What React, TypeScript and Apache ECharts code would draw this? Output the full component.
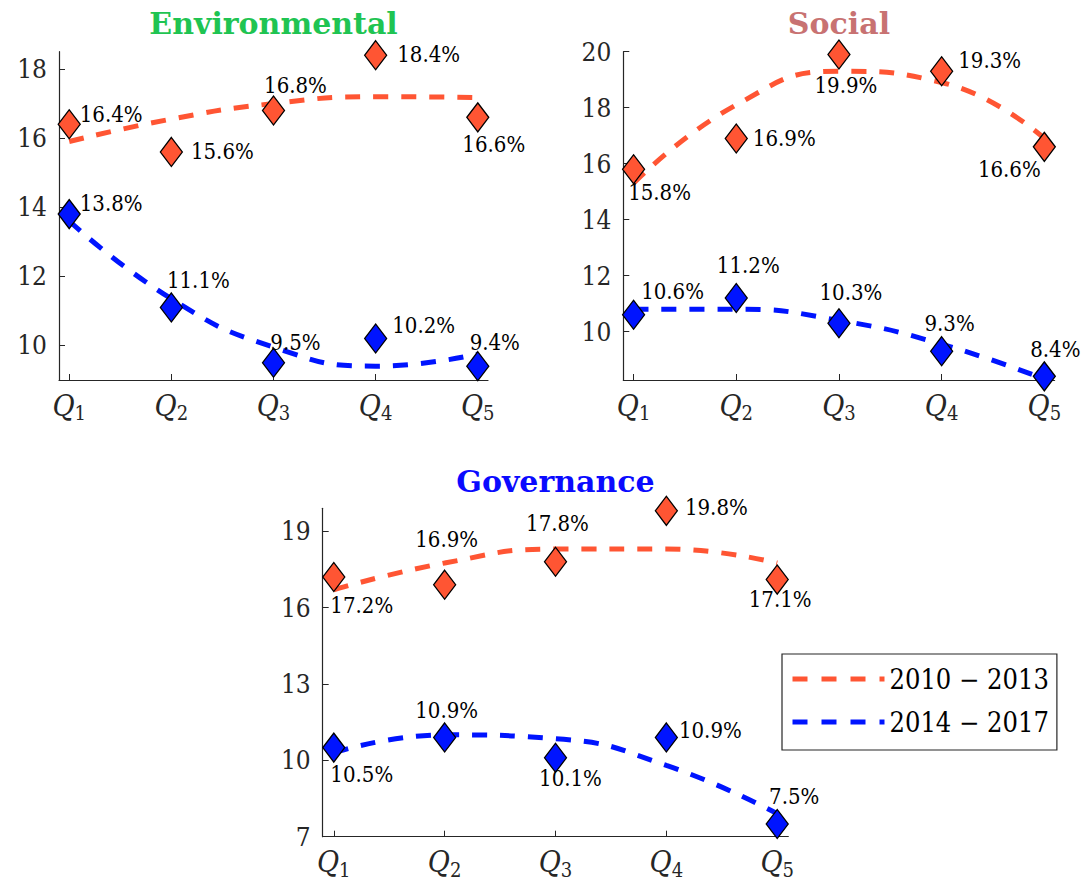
import React, { useEffect, useRef } from 'react';
import * as echarts from 'echarts';

// ---- data ----
const quintilePositions = [1, 2, 3, 4, 5];
const periods = ['2010 − 2013', '2014 − 2017'];

const envEarly = [16.4, 15.6, 16.8, 18.4, 16.6];
const envLate = [13.8, 11.1, 9.5, 10.2, 9.4];
const socEarly = [15.8, 16.9, 19.9, 19.3, 16.6];
const socLate = [10.6, 11.2, 10.3, 9.3, 8.4];
const govEarly = [17.2, 16.9, 17.8, 19.8, 17.1];
const govLate = [10.5, 10.9, 10.1, 10.9, 7.5];

// dashed trend curves, values read at each quintile
const envEarlyTrend = [15.9, 16.55, 17.0, 17.2, 17.17];
const envLateTrend = [13.6, 11.35, 9.95, 9.4, 9.75];
const socEarlyTrend = [15.3, 18.1, 19.3, 18.9, 16.9];
const socLateTrend = [10.8, 10.8, 10.4, 9.55, 8.3];
const govEarlyTrend = [16.7, 17.75, 18.3, 18.3, 17.75];
const govLateTrend = [10.3, 11.0, 10.85, 9.8, 7.9];

const envTicks = [10, 12, 14, 16, 18];
const socTicks = [10, 12, 14, 16, 18, 20];
const govTicks = [7, 10, 13, 16, 19];

// ---- styling / layout ----
const SERIF = 'DejaVu Serif Condensed, DejaVu Serif, serif';
const RED = '#ff5533';
const BLUE = '#0014ff';
const AXIS = '#262626';

const envEarlyOff = [[42, -10], [51, 0], [22, -25], [53, -1], [16, 27]];
const envLateOff = [[42, -11], [27, -27], [22, -20], [48, -13], [17, -24]];
const socEarlyOff = [[26, 23], [48, 0], [7, 31], [48, -11], [-35, 23]];
const socLateOff = [[39, -23], [12, -32], [12, -31], [8, -28], [11, -27]];
const govEarlyOff = [[28, 28], [2, -45], [2, -38], [50, -3], [3, 20]];
const govLateOff = [[28, 27], [2, -27], [15, 21], [44, -7], [17, -27]];

const panels = [
  {
    title: 'Environmental', titleColor: '#1fc452', titleY: 8,
    grid: { left: 59, top: 51.7, width: 429, height: 328.3 },
    yMin: 9, yMax: 18.5, ticks: envTicks,
    early: envEarly, late: envLate, earlyTrend: envEarlyTrend, lateTrend: envLateTrend,
    earlyOff: envEarlyOff, lateOff: envLateOff,
  },
  {
    title: 'Social', titleColor: '#c87272', titleY: 8,
    grid: { left: 623.3, top: 51.7, width: 431.3, height: 328.3 },
    yMin: 8.27, yMax: 20, ticks: socTicks,
    early: socEarly, late: socLate, earlyTrend: socEarlyTrend, lateTrend: socLateTrend,
    earlyOff: socEarlyOff, lateOff: socLateOff,
  },
  {
    title: 'Governance', titleColor: '#0a0aff', titleY: 466,
    grid: { left: 322.7, top: 508.3, width: 465.6, height: 328.4 },
    yMin: 7, yMax: 19.9, ticks: govTicks,
    early: govEarly, late: govLate, earlyTrend: govEarlyTrend, lateTrend: govLateTrend,
    earlyOff: govEarlyOff, lateOff: govLateOff,
  },
];

function buildOption() {
  const grids: any[] = [];
  const xAxes: any[] = [];
  const yAxes: any[] = [];
  const titles: any[] = [];
  const series: any[] = [];

  panels.forEach((p, i) => {
    grids.push({ ...p.grid, containLabel: false });
    titles.push({
      text: p.title,
      left: p.grid.left + p.grid.width / 2,
      top: p.titleY,
      textAlign: 'center',
      padding: 0,
      textStyle: { fontFamily: 'DejaVu Serif, serif', fontWeight: 'bold', fontSize: 30, color: p.titleColor },
    });
    xAxes.push({
      gridIndex: i,
      type: 'value',
      min: 0.9,
      max: 5.1,
      axisLine: { show: true, onZero: false, lineStyle: { color: AXIS, width: 1.2 } },
      axisTick: { show: true, inside: true, length: 6, customValues: quintilePositions, lineStyle: { color: AXIS, width: 1 } },
      axisLabel: {
        customValues: quintilePositions,
        margin: 10,
        formatter: (v: number) => `{q|Q}{s|${Math.round(v)}}`,
        rich: {
          q: { fontFamily: SERIF, fontStyle: 'italic', fontSize: 30, lineHeight: 30, color: AXIS },
          s: { fontFamily: SERIF, fontSize: 20, lineHeight: 20, color: AXIS, padding: [16, 0, 0, 0] },
        },
      },
      splitLine: { show: false },
    });
    yAxes.push({
      gridIndex: i,
      type: 'value',
      min: p.yMin,
      max: p.yMax,
      axisLine: { show: true, onZero: false, lineStyle: { color: AXIS, width: 1.2 } },
      axisTick: { show: true, inside: true, length: 6, customValues: p.ticks, lineStyle: { color: AXIS, width: 1 } },
      axisLabel: { customValues: p.ticks, margin: 12, fontFamily: SERIF, fontSize: 26, color: AXIS },
      splitLine: { show: false },
    });

    const groups = [
      { name: periods[0], color: RED, pts: p.early, trend: p.earlyTrend, off: p.earlyOff },
      { name: periods[1], color: BLUE, pts: p.late, trend: p.lateTrend, off: p.lateOff },
    ];
    groups.forEach((g) => {
      series.push({
        type: 'line',
        name: g.name,
        xAxisIndex: i,
        yAxisIndex: i,
        data: g.trend.map((v, k) => [quintilePositions[k], v]),
        smooth: 0.5,
        symbol: 'none',
        silent: true,
        clip: true,
        z: 2,
        itemStyle: { color: g.color },
        lineStyle: { color: g.color, width: 5, type: [15, 13], cap: 'butt' },
      });
      series.push({
        type: 'scatter',
        name: `${p.title} ${g.name} points`,
        xAxisIndex: i,
        yAxisIndex: i,
        symbol: 'diamond',
        symbolSize: [22, 29],
        clip: false,
        z: 3,
        itemStyle: { color: g.color, borderColor: '#000', borderWidth: 1.3, opacity: 1 },
        label: {
          show: true,
          position: 'inside',
          align: 'center',
          verticalAlign: 'middle',
          fontFamily: SERIF,
          fontSize: 22,
          color: '#000',
          formatter: (prm: any) => `${prm.value[1].toFixed(1)}%`,
        },
        data: g.pts.map((v, k) => ({ value: [quintilePositions[k], v], label: { offset: g.off[k] } })),
      });
    });
  });

  return {
    animation: false,
    backgroundColor: '#ffffff',
    title: titles,
    grid: grids,
    xAxis: xAxes,
    yAxis: yAxes,
    legend: {
      data: periods,
      orient: 'vertical',
      left: 782,
      top: 654,
      itemWidth: 92,
      itemHeight: 10,
      itemGap: 11,
      padding: [9, 8, 12, 8],
      borderColor: AXIS,
      borderWidth: 1.2,
      backgroundColor: '#ffffff',
      selectedMode: false,
      itemStyle: { opacity: 0, borderWidth: 0 },
      lineStyle: { width: 5, type: [15, 14], cap: 'butt' },
      textStyle: { fontFamily: SERIF, fontSize: 27, color: '#000', lineHeight: 32 },
    },
    series,
  };
}

export default function App() {
  const ref = useRef<HTMLDivElement>(null);
  useEffect(() => {
    if (!ref.current) return;
    const chart = echarts.init(ref.current, null, { renderer: 'svg' });
    chart.setOption(buildOption() as any);
    return () => chart.dispose();
  }, []);
  return (
    <div
      ref={ref}
      style={{ position: 'fixed', left: 0, top: 0, width: '1083px', height: '883px', background: '#fff' }}
    />
  );
}
